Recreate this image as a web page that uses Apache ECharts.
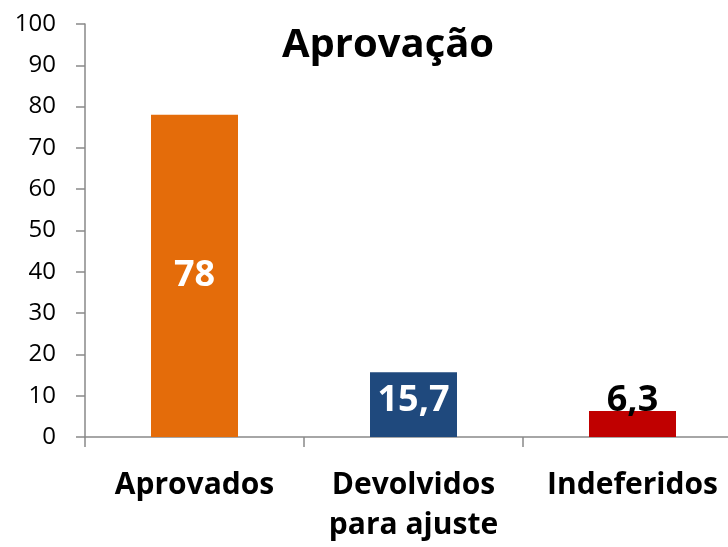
<!DOCTYPE html>
<html>
<head>
<meta charset="utf-8">
<script src="https://cdn.jsdelivr.net/npm/echarts@6/dist/echarts.min.js"></script>
<style>
  html, body { margin: 0; padding: 0; background: #fff; overflow: hidden; }
  /* the last category runs past the right edge in the original */
  #chart { width: 742px; height: 547px; }
</style>
</head>
<body>
<div id="chart"></div>
<script>
var categories = ['Aprovados', 'Devolvidos\npara ajuste', 'Indeferidos'];
var values = [78, 15.7, 6.3];
var barColors = ['#E46C0A', '#1F497D', '#C00000'];
var yTicks = [0, 10, 20, 30, 40, 50, 60, 70, 80, 90, 100];

var font = '"Open Sans", sans-serif';
var chart = echarts.init(document.getElementById('chart'));

var barData = values.map(function (v, i) {
  var item = { value: v, itemStyle: { color: barColors[i] } };
  if (i == 1) {
    item.label = { offset: [0, -4] };
  }
  if (i == 2) {
    item.label = { position: 'top', distance: -8, color: '#000' };
  }
  return item;
});

chart.setOption({
  animation: false,
  title: {
    text: 'Aprovação',
    left: 383,
    textAlign: 'center',
    top: 21,
    textStyle: { fontFamily: font, fontSize: 40, fontWeight: 'bold', color: '#000' }
  },
  grid: { left: 85, top: 24, right: 0, height: 413 },
  xAxis: {
    type: 'category',
    data: categories,
    axisLine: { lineStyle: { color: '#898989', width: 1.5 } },
    axisTick: { show: true, length: 10, lineStyle: { color: '#898989', width: 1.5 } },
    axisLabel: {
      margin: 28,
      fontFamily: font,
      fontSize: 30,
      fontWeight: 'bold',
      color: '#000',
      lineHeight: 40,
      interval: 0
    }
  },
  yAxis: {
    type: 'value',
    min: yTicks[0],
    max: yTicks[yTicks.length - 1],
    interval: 10,
    splitLine: { show: false },
    axisLine: { show: true, lineStyle: { color: '#898989', width: 1.5 } },
    axisTick: { show: true, length: 9, lineStyle: { color: '#898989', width: 1.5 } },
    axisLabel: {
      margin: 29,
      fontFamily: font,
      fontSize: 24,
      color: '#000',
      formatter: function (v) { return yTicks.indexOf(v) >= 0 ? String(v) : ''; }
    }
  },
  series: [{
    type: 'bar',
    data: barData,
    barWidth: 87,
    label: {
      show: true,
      position: 'inside',
      fontFamily: font,
      fontSize: 36,
      fontWeight: 'bold',
      color: '#fff',
      formatter: function (p) { return String(p.value).replace('.', ','); }
    }
  }]
});
</script>
</body>
</html>
